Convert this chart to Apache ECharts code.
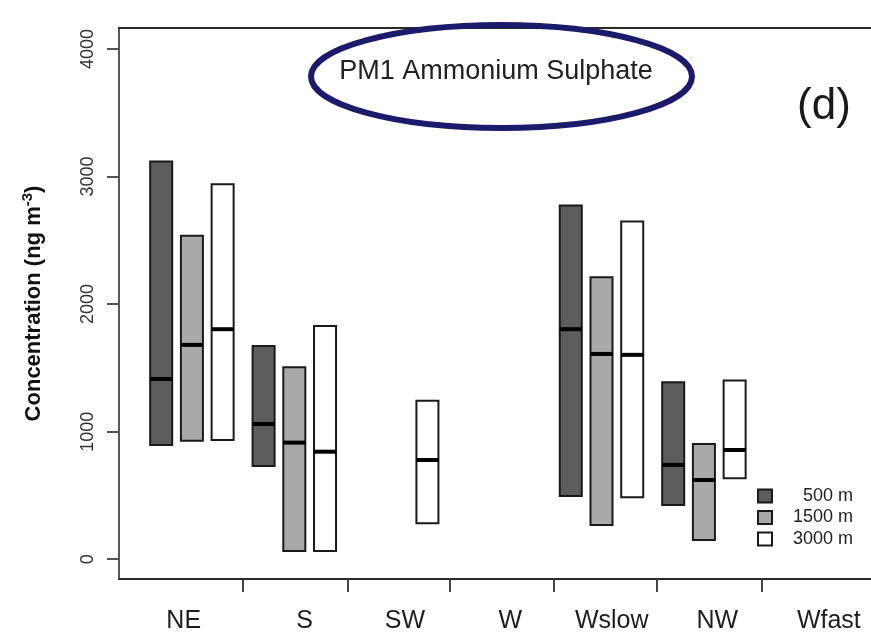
<!DOCTYPE html>
<html>
<head>
<meta charset="utf-8">
<title>PM1 Ammonium Sulphate</title>
<script src="https://cdn.jsdelivr.net/npm/echarts@6/dist/echarts.min.js"></script>
<style>
  html, body { margin: 0; padding: 0; background: #fff; }
  #chart { width: 871px; height: 638px; }
</style>
</head>
<body>
<div id="chart"></div>
<script>
// Wind-sector categories along the x axis
const categories = ['NE', 'S', 'SW', 'W', 'Wslow', 'NW', 'Wfast'];
// Sampling altitudes (one bar per altitude in each sector)
const altitudes = ['500 m', '1500 m', '3000 m'];
const altitudeColors = ['#5d5d5d', '#a9a9a9', '#ffffff'];

// Concentration ranges (ng m-3): lower bound, median, upper bound; null = no data
const low500  = [896, 731, null, null, 496, 425, null];
const med500  = [1413, 1060, null, null, 1803, 739, null];
const high500 = [3118, 1672, null, null, 2773, 1387, null];

const low1500  = [929, 64, null, null, 268, 151, null];
const med1500  = [1680, 914, null, null, 1609, 621, null];
const high1500 = [2535, 1505, null, null, 2211, 904, null];

const low3000  = [935, 64, 282, null, 485, 635, null];
const med3000  = [1803, 843, 778, null, 1602, 856, null];
const high3000 = [2940, 1829, 1243, null, 2647, 1400, null];

// Tick labels
const yTicks = [0, 1000, 2000, 3000, 4000];

// Axis decoration layout (category units): separator ticks and sector-name anchors
const sectorTickAt = [0.5, 1.52, 2.52, 3.53, 4.54, 5.56];
const sectorLabelAt = [-0.08, 1.1, 2.08, 3.11, 4.1, 5.13, 6.22];

const FONT = '"Liberation Sans", Arial, Helvetica, sans-serif';

function rangeData(low, med, high) {
  const out = [];
  categories.forEach(function (c, i) {
    if (low[i] != null) out.push([i, low[i], med[i], high[i]]);
  });
  return out;
}

const seriesRanges = [
  rangeData(low500, med500, high500),
  rangeData(low1500, med1500, high1500),
  rangeData(low3000, med3000, high3000)
];

// position of each altitude bar inside its sector (in category units)
const groupOffsets = [-0.3, 0, 0.3];
const barWidth = 0.215;

function makeRenderer(k) {
  return function (params, api) {
    const x = api.value(0) + groupOffsets[k];
    const lo = api.coord([x, api.value(1)]);
    const md = api.coord([x, api.value(2)]);
    const hi = api.coord([x, api.value(3)]);
    const w = api.size([barWidth, 0])[0];
    return {
      type: 'group',
      children: [
        {
          type: 'rect',
          shape: { x: lo[0] - w / 2, y: hi[1], width: w, height: lo[1] - hi[1] },
          style: { fill: altitudeColors[k], stroke: '#1a1a1a', lineWidth: 2 }
        },
        {
          type: 'line',
          shape: { x1: lo[0] - w / 2, y1: md[1], x2: lo[0] + w / 2, y2: md[1] },
          style: { stroke: '#000', lineWidth: 4 }
        }
      ]
    };
  };
}

const W = 871;
const gridLeft = 119;
const gridWidth = W - gridLeft;
const pxPerCat = 102.4;
const xMin = -0.712;
const xMax = xMin + gridWidth / pxPerCat;

const chart = echarts.init(document.getElementById('chart'), null, { renderer: 'canvas' });

chart.setOption({
  animation: false,
  backgroundColor: '#fff',
  textStyle: { fontFamily: FONT },
  grid: {
    left: gridLeft,
    right: 0,
    top: 28,
    bottom: 59,
    show: false,
    containLabel: false
  },
  xAxis: [
    {
      type: 'value',
      position: 'bottom',
      min: xMin,
      max: xMax,
      splitLine: { show: false },
      axisLine: { show: true, onZero: false, lineStyle: { color: '#2a2a2a', width: 2 } },
      axisTick: {
        show: true,
        inside: false,
        length: 13,
        customValues: sectorTickAt,
        lineStyle: { color: '#444', width: 2 }
      },
      axisLabel: {
        customValues: sectorLabelAt,
        formatter: function (v) { return categories[Math.round(v)]; },
        fontSize: 25,
        color: '#1e1e1e',
        margin: 30,
        fontFamily: FONT
      }
    },
    {
      // top edge of the plot frame
      type: 'value',
      position: 'top',
      min: xMin,
      max: xMax,
      splitLine: { show: false },
      axisLine: { show: true, onZero: false, lineStyle: { color: '#2a2a2a', width: 2 } },
      axisTick: { show: false },
      axisLabel: { show: false }
    }
  ],
  yAxis: {
    type: 'value',
    min: -155,
    max: 4164,
    splitLine: { show: false },
    axisLine: { show: true, onZero: false, lineStyle: { color: '#5a5a5a', width: 2 } },
    axisTick: {
      show: true,
      inside: false,
      length: 12,
      customValues: yTicks,
      lineStyle: { color: '#555', width: 2 }
    },
    axisLabel: {
      customValues: yTicks,
      formatter: function (v) { return String(v); },
      rotate: 90,
      fontSize: 18,
      color: '#333',
      margin: 22,
      fontFamily: FONT
    },
    name: '{t|Concentration (ng m}{s|-3}{t|)}',
    nameLocation: 'middle',
    nameRotate: 90,
    nameGap: 72,
    nameTextStyle: {
      rich: {
        t: { fontSize: 22, fontWeight: 'bold', color: '#111', fontFamily: FONT },
        s: { fontSize: 15, fontWeight: 'bold', color: '#111', fontFamily: FONT, verticalAlign: 'top', padding: [0, 0, 12, 0] }
      }
    }
  },
  legend: {
    orient: 'vertical',
    left: 757,
    top: 487,
    padding: 0,
    itemWidth: 14,
    itemHeight: 13,
    itemGap: 3.5,
    icon: 'rect',
    data: altitudes,
    formatter: function (name) { return '{r|' + name + '}'; },
    textStyle: {
      rich: {
        r: { width: 76, align: 'right', fontSize: 18, color: '#222', fontFamily: FONT }
      }
    }
  },
  graphic: [
    {
      type: 'ellipse',
      shape: { cx: 501.5, cy: 76.5, rx: 190.5, ry: 51.5 },
      style: { fill: 'none', stroke: '#1b1b6b', lineWidth: 6 },
      z: 10
    },
    {
      type: 'text',
      x: 496, y: 72,
      style: {
        text: 'PM1 Ammonium Sulphate',
        font: '27px ' + FONT,
        fill: '#222',
        textAlign: 'center',
        textVerticalAlign: 'middle'
      },
      z: 10
    },
    {
      type: 'text',
      x: 824, y: 107,
      style: {
        text: '(d)',
        font: '44px ' + FONT,
        fill: '#1a1a1a',
        textAlign: 'center',
        textVerticalAlign: 'middle'
      },
      z: 10
    }
  ],
  series: altitudes.map(function (name, k) {
    return {
      name: name,
      type: 'custom',
      renderItem: makeRenderer(k),
      itemStyle: { color: altitudeColors[k], borderColor: '#1a1a1a', borderWidth: 2 },
      encode: { x: 0, y: [1, 2, 3] },
      data: seriesRanges[k]
    };
  })
});
</script>
</body>
</html>
